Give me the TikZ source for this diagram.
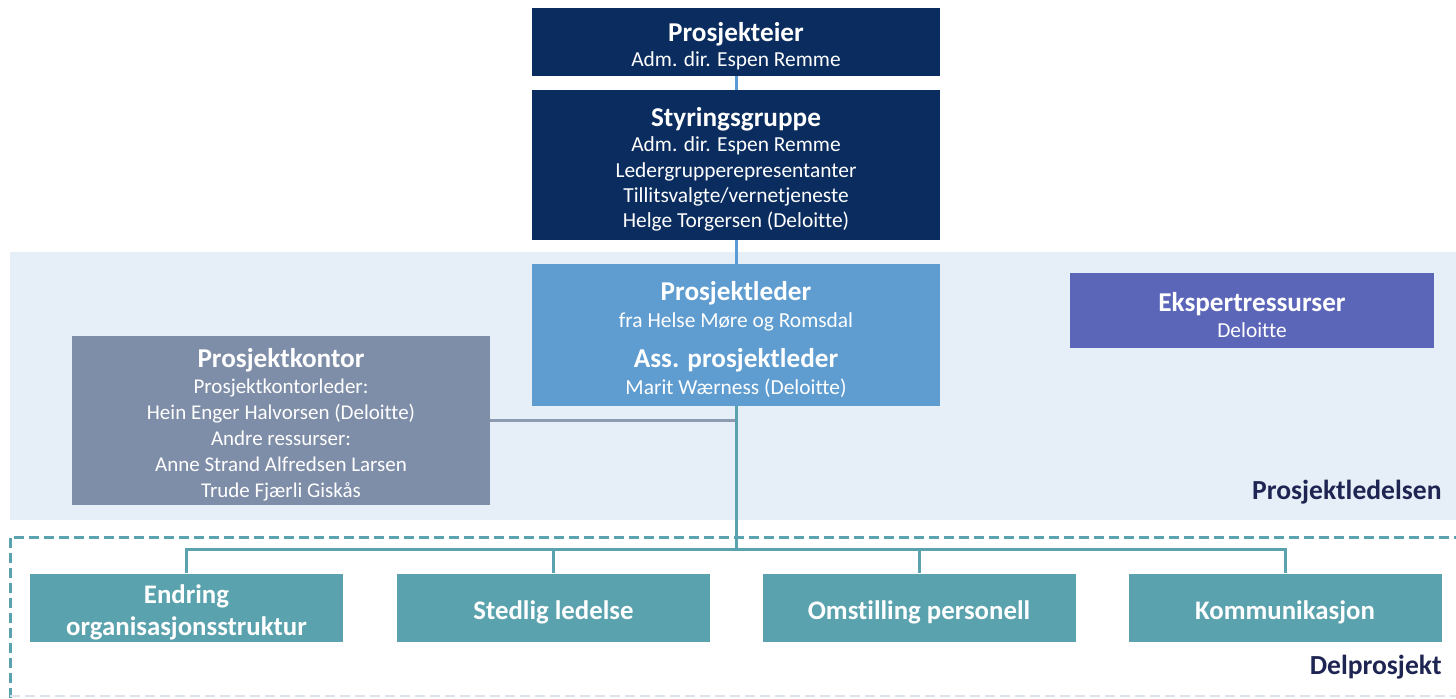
\documentclass[tikz,border=0pt]{standalone}
\usepackage{fontspec}
\setmainfont{Carlito}[Ligatures={NoCommon}]
\usepackage{tikz}
\usetikzlibrary{positioning}
\definecolor{navy}{HTML}{0A2C5E}
\definecolor{lederblue}{HTML}{5F9DD1}
\definecolor{bandblue}{HTML}{E6EEF7}
\definecolor{ekspertblue}{HTML}{5C66B8}
\definecolor{kontorgray}{HTML}{7F8EA8}
\definecolor{delteal}{HTML}{5AA2AD}
\definecolor{linegray}{HTML}{8C9BB0}
\definecolor{linkblue}{HTML}{5B9BD5}
\definecolor{labelnavy}{HTML}{1F2553}
\definecolor{faintgray}{HTML}{DDE3EA}
\newcommand{\boxtitle}[1]{{\fontsize{13.6}{15}\selectfont\bfseries #1}}
\newcommand{\topstrut}{\rule{0pt}{14pt}}

\begin{document}
\begin{tikzpicture}[x=0.5pt, y=-0.5pt,
    box/.style={text=white, align=center, inner sep=0pt, font=\fontsize{10.7}{12.6}\selectfont},
    topbox/.style={box, fill=navy, minimum width=204pt},
    delbox/.style={box, fill=delteal, minimum width=156.5pt, minimum height=34pt,
      font=\fontsize{13.4}{16}\selectfont\bfseries},
    toplink/.style={linkblue, line width=1.5pt},
    tealline/.style={delteal, line width=1.5pt},
    areatext/.style={labelnavy, anchor=south east, inner sep=0pt,
      font=\fontsize{13.8}{16}\selectfont\bfseries}]
      \clip (0, 0) rectangle (1456, 698);

      \fill[bandblue] (10, 252) rectangle (1470, 520);
      \draw[delteal, line width=1.5pt, dash pattern=on 5pt off 2.5pt] (10, 698) -- (10, 537) -- (1470, 537);
      \draw[faintgray, line width=0.8pt, dash pattern=on 5pt off 2.5pt] (10, 696) -- (1470, 696);

      \node[topbox, minimum height=34pt] (eier) at (736, 42)
        {\topstrut\boxtitle{Prosjekteier}\\Adm. dir. Espen Remme};
      \node[topbox, minimum height=75pt] (styring) at (736, 165)
        {\topstrut\boxtitle{Styringsgruppe}\\Adm. dir. Espen Remme\\
         Ledergrupperepresentanter\\Tillitsvalgte/vernetjeneste\\Helge Torgersen (Deloitte)};
      \node[box, fill=lederblue, minimum width=204pt, minimum height=71pt] (leder) at (736, 335)
        {\topstrut\boxtitle{Prosjektleder}\\[1pt]fra Helse Møre og Romsdal\\[7pt]
         \boxtitle{Ass. prosjektleder}\\[1pt]Marit Wærness (Deloitte)};
      \node[box, fill=ekspertblue, minimum width=182pt, minimum height=37.5pt] (ekspert) at (1252, 310.5)
        {\topstrut\boxtitle{Ekspertressurser}\\Deloitte};
      \node[box, fill=kontorgray, minimum width=209pt, minimum height=84.5pt,
        font=\fontsize{10.5}{13}\selectfont] (kontor) at (281, 420.5)
        {\topstrut\boxtitle{Prosjektkontor}\\Prosjektkontorleder:\\
         Hein Enger Halvorsen (Deloitte)\\Andre ressurser:\\Anne Strand Alfredsen Larsen\\Trude Fjærli Giskås};

      \node[delbox] (endring) at (186.5, 607.5) {\topstrut Endring\\organisasjonsstruktur};
      \node[delbox] (stedlig) at (553.5, 607.5) {\topstrut Stedlig ledelse};
      \node[delbox] (omstilling) at (919, 607.5) {\topstrut Omstilling personell};
      \node[delbox] (kommunikasjon) at (1285, 607.5) {\topstrut Kommunikasjon};

      \coordinate (bus) at (736, 549);
      \draw[toplink] (eier) -- (styring);
      \draw[toplink] (styring) -- (leder);
      \draw[linegray, line width=1.5pt] (kontor.east) -- (kontor.east -| leder.south);
      \draw[tealline] (leder.south) -- (bus);
      \draw[tealline] (endring.north) |- (bus) -| (kommunikasjon.north);
      \draw[tealline] (stedlig.north) -- (stedlig.north |- bus);
      \draw[tealline] (omstilling.north) -- (omstilling.north |- bus);

      \node[areatext] (ledelsen) at (1442, 505) {Prosjektledelsen};
      \node[areatext] (delprosjekt) at (1442, 680) {Delprosjekt};
    \end{tikzpicture}
\end{document}
